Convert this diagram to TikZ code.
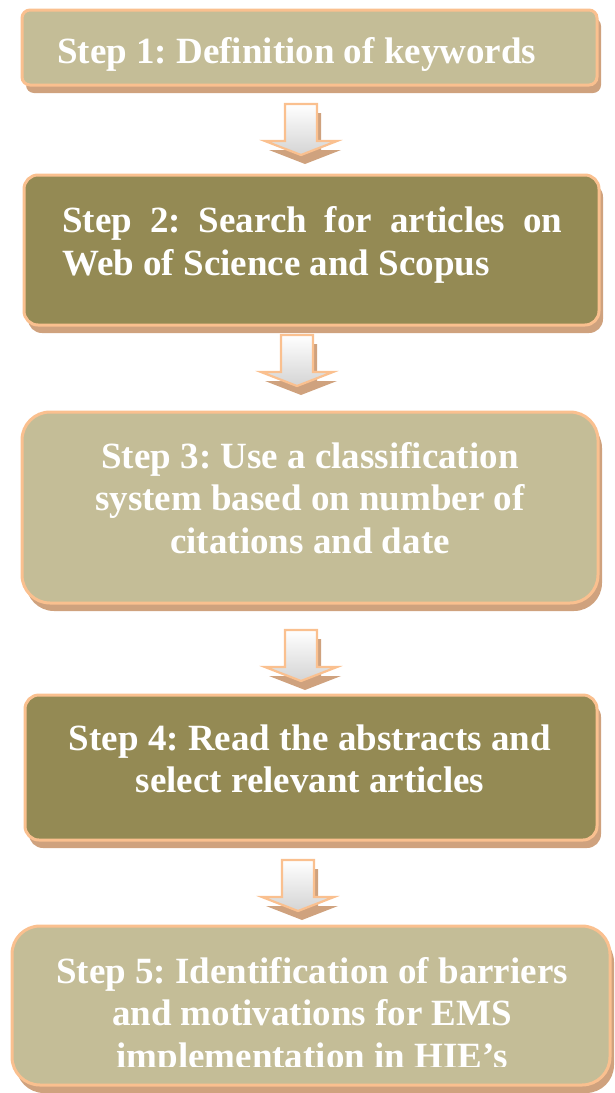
\documentclass[tikz,border=0pt]{standalone}
\usepackage{fontspec}
\setmainfont{Liberation Serif}
\usetikzlibrary{shadows}
\definecolor{lightolive}{HTML}{C4BD97}
\definecolor{darkolive}{HTML}{948A54}
\definecolor{peach}{HTML}{FAC08F}
\definecolor{shadowtan}{HTML}{CFA27E}
\definecolor{arrowgray}{HTML}{D4D4D4}
\frenchspacing
\begin{document}
\begin{tikzpicture}[x=1pt,y=-1pt,
  stepbox/.style={draw=peach, line width=3pt, inner sep=0pt,
    drop shadow={shadow xshift=4pt, shadow yshift=-8pt, fill=shadowtan, opacity=1}},
  lbl/.style={text=white, font=\bfseries\fontsize{37}{42.5}\selectfont\frenchspacing, inner sep=0pt},
  downarrow/.pic={
    \fill[shadowtan] (-12,-17) -- (20,-17) -- (20,20) -- (40,20) -- (4,34) -- (-32,20) -- (-12,20) -- cycle;
    \path[draw=peach, line width=2.2pt, line join=miter, top color=white, bottom color=arrowgray]
      (-16,-26) -- (16,-26) -- (16,11) -- (36,11) -- (0,25) -- (-36,11) -- (-16,11) -- cycle;
  }]
\useasboundingbox (0,0) rectangle (614,1093);

% boxes
\node[stepbox, fill=lightolive, rounded corners=8pt, minimum width=575pt, minimum height=75pt] (b1) at (309.5,47.5) {};
\node[stepbox, fill=darkolive, rounded corners=14pt, minimum width=575pt, minimum height=150pt] (b2) at (311.5,250) {};
\node[stepbox, fill=lightolive, rounded corners=28pt, minimum width=576pt, minimum height=191pt] (b3) at (310,507.5) {};
\node[stepbox, fill=darkolive, rounded corners=14pt, minimum width=572pt, minimum height=145pt] (b4) at (311,767.5) {};
\node[stepbox, fill=lightolive, rounded corners=28pt, minimum width=598pt, minimum height=159pt] (b5) at (311,1005.5) {};

% block arrows between the boxes
\pic (a1) at (301,130) {downarrow};
\pic (a2) at (297,361) {downarrow};
\pic (a3) at (301,656) {downarrow};
\pic (a4) at (298,886) {downarrow};

% texts
\node[lbl, anchor=base west] (t1) at (57,63) {Step 1: Definition of keywords};
\node[lbl, anchor=base west] (t2a) at (62,232) {\makebox[500pt][s]{Step 2: Search for articles on}};
\node[lbl, anchor=base west] (t2b) at (62,275) {Web of Science and Scopus};
\node[lbl, anchor=base] (t3a) at (310,468) {Step 3: Use a classification};
\node[lbl, anchor=base] (t3b) at (310,510.5) {system based on number of};
\node[lbl, anchor=base] (t3c) at (310,553) {citations and date};
\node[lbl, anchor=base] (t4a) at (310,750) {Step 4: Read the abstracts and};
\node[lbl, anchor=base] (t4b) at (310,792) {select relevant articles};
\begin{scope}
  \clip (0,930) rectangle (614,1066);
  \node[lbl, anchor=base] (t5a) at (312,983) {Step 5: Identification of barriers};
  \node[lbl, anchor=base] (t5b) at (312,1025.5) {and motivations for EMS};
  \node[lbl, anchor=base] (t5c) at (312,1068) {implementation in HIE’s};
\end{scope}
\end{tikzpicture}
\end{document}
